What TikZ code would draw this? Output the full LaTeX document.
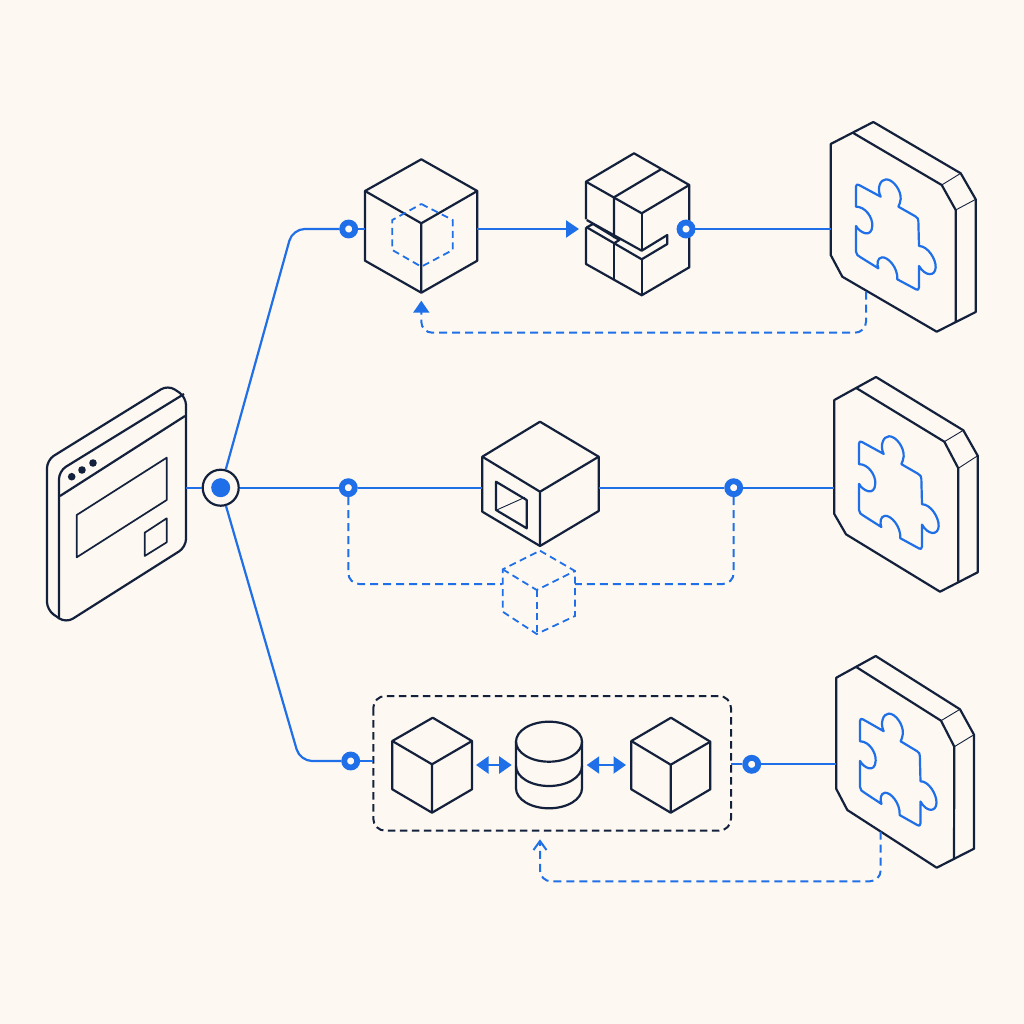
\documentclass[tikz,border=0pt]{standalone}
\usetikzlibrary{arrows.meta}
\definecolor{paper}{RGB}{253,248,241}
\definecolor{navy}{RGB}{20,33,61}
\definecolor{azure}{RGB}{30,111,232}
\tikzset{
  ink/.style={draw=navy,line width=2.2,line join=round},
  hair/.style={draw=navy,line width=0.9},
  flow/.style={draw=azure,line width=2.2},
  ghost/.style={draw=azure,line width=1.8,dash pattern=on 7pt off 4.5pt},
  back/.style={draw=azure,line width=2,dash pattern=on 8pt off 5pt,rounded corners=11},
  frameline/.style={draw=navy,line width=2,dash pattern=on 7.5pt off 4.5pt,rounded corners=12},
  piece/.style={draw=azure,line width=2.2,line join=round},
  ringnode/.style={circle,draw=azure,fill=paper,line width=5.8,minimum size=13,inner sep=0},
  solidhead/.style={-{Triangle[length=13pt,width=17pt]}},
  twohead/.style={{Triangle[length=12.5pt,width=17pt]}-{Triangle[length=12.5pt,width=17pt]}}
}
\newcommand{\puzzlepiece}[4]{%
  \begin{scope}[shift={(#1,#2)},xscale=#3/3,yscale=#4/3]
    \draw[piece] (0,30) -- (0,8) .. controls (0,1) and (4,0) .. (9,3) -- (74,38)
      .. controls (62,15) and (72,-14) .. (90,-14)
      .. controls (112,-14) and (136,20) .. (134,45)
      .. controls (133,55) and (130,62) .. (127,68)
      -- (178,97) .. controls (185,101) and (187,105) .. (187,112) -- (189,186)
      .. controls (215,186) and (240,225) .. (239,250)
      .. controls (238,278) and (208,278) .. (189,246)
      -- (189,310) .. controls (189,318) and (184,319) .. (180,316) -- (124,286)
      .. controls (126,250) and (95,218) .. (78,220)
      .. controls (64,221) and (62,240) .. (67,253)
      -- (14,220) .. controls (6,215) and (0,212) .. (0,203) -- (0,126)
      .. controls (10,145) and (47,165) .. (49,125)
      .. controls (50,100) and (28,68) .. (0,68)
      -- cycle;
  \end{scope}}
\begin{document}
\begin{tikzpicture}[x=1pt,y=-1pt]
\useasboundingbox (0,0) rectangle (1024,1024);
\fill[paper] (0,0) rectangle (1024,1024);

% window
\draw[ink,rounded corners=8] (47,520) -- (47,460) -- (168,385) -- (186,397) -- (186,547) -- (66,623) -- (47,610) -- cycle;
\draw[ink,rounded corners=8] (184,394) -- (59,471) -- (59,619);
\draw[ink] (185,416) -- (60,496);
\fill[navy] (71.7,476.7) circle (3.8) (82,470) circle (3.8) (93,463) circle (3.8);
\draw[ink,line width=1.7] (76.7,515) -- (166.7,457.7) -- (166.7,500) -- (76.7,557.3) -- cycle;
\draw[ink,line width=1.7] (144.7,532.7) -- (166.7,518.3) -- (166.7,542.3) -- (144.7,556) -- cycle;

% upper cube
\draw[ink] (421.3,159.3) -- (477.3,191) -- (477.3,260.7) -- (421.3,292.7) -- (365,260.7) -- (365,191) -- cycle;
\draw[ink] (365,191) -- (421.3,223.3) -- (477.3,191) (421.3,223.3) -- (421.3,292.7);
\draw[ghost] (421.3,204) -- (452.7,220) -- (452.7,250) -- (421.3,266.7) -- (392.3,250) -- (392.3,220) -- cycle;

% split block
\draw[ink] (586,219.3) -- (586,181.7) -- (634,153.3) -- (689.3,185) -- (689.3,267.3) -- (641.7,295.3) -- (586,264) -- (586,227.3);
\draw[ink] (586,181.7) -- (641.7,213.3) -- (689.3,185);
\draw[ink] (661,169.3) -- (614,197.3) -- (614,238);
\draw[ink] (641.7,213.3) -- (641.7,250.7);
\draw[ink] (586.7,220) -- (641.7,250.7) -- (667.3,235) -- (667.3,244) -- (641.7,259.3) -- (586.7,227.3) -- (593,224) -- (619.3,240) -- (614,243.3);
\draw[ink] (641.7,259.3) -- (641.7,295.3);
\draw[ink] (614,243.3) -- (614,280);

% plates
\draw[ink] (830.7,144) -- (873.3,122) -- (960.7,173.3) -- (975.7,199.3) -- (975.7,312) -- (936.7,331.7) -- (842.3,276.7) -- (830.7,255) -- cycle;
\draw[ink] (852.7,132.7) -- (941.7,185) -- (955.7,210) -- (955.7,322.3);
\draw[hair] (941.7,185) -- (960.7,173.3) (955.7,210) -- (975.7,199.3);
\puzzlepiece{856}{184}{1}{1}

\draw[ink] (834.3,400) -- (876,377) -- (963.3,430.3) -- (977.7,455.7) -- (977.7,572.3) -- (940,591.7) -- (846,534.3) -- (834.3,514) -- cycle;
\draw[ink] (856.7,388.3) -- (944.3,441.7) -- (958.3,468.3) -- (958.3,581.7);
\draw[hair] (944.3,441.7) -- (963.3,430.3) (958.3,468.3) -- (977.7,455.7);
\puzzlepiece{859}{441}{1}{1.02}

\draw[ink] (836.3,677.7) -- (875.7,656) -- (960,709.3) -- (974,734.7) -- (974,848.7) -- (936.7,867.7) -- (847.3,810) -- (836.3,789) -- cycle;
\draw[ink] (856.7,667.3) -- (941,720.7) -- (954.3,746.7) -- (954,859);
\draw[hair] (941,720.7) -- (960,709.3) (954.3,746.7) -- (974,734.7);
\puzzlepiece{860}{718.3}{0.96}{1.015}

% middle cube
\draw[ink] (540,421.7) -- (598.7,456.7) -- (598.7,511) -- (540,546) -- (482.3,511.7) -- (482.3,456.7) -- cycle;
\draw[ink] (482.3,456.7) -- (540,491.7) -- (598.7,456.7) (540,491.7) -- (540,546);
\draw[ink] (496,481.7) -- (526.7,500) -- (526.7,528.3) -- (496,510) -- cycle;
\draw[hair] (496.7,510) -- (525,497.3);

% ghost cube
\draw[ghost] (540,550.7) -- (575,571) -- (575,616) -- (536.7,634) -- (502.7,611.7) -- (502.7,569.3) -- cycle;
\draw[ghost] (502.7,569.3) -- (536.7,590) -- (575,571);
\draw[ghost] (536.7,590) -- (536.7,634);

% dashed frame
\draw[frameline] (373.3,696) rectangle (731,830.7);

% lower cubes
\draw[ink] (432.7,717.7) -- (472,741) -- (472,789.3) -- (432,812.7) -- (392.3,789.3) -- (392.3,741) -- cycle;
\draw[ink] (392.3,741) -- (432,764.3) -- (472,741) (432,764.3) -- (432,812.7);
\draw[ink] (671,717.7) -- (710.3,741.7) -- (710.3,789.3) -- (670.7,812.7) -- (631.3,789.3) -- (631.3,741) -- cycle;
\draw[ink] (631.3,741) -- (670.7,764.7) -- (710.3,741.7) (670.7,764.7) -- (670.7,812.7);

% database
\draw[ink] (549,741.7) ellipse (33 and 20);
\draw[ink] (516,741.7) -- (516,788.3) arc[start angle=180,end angle=360,x radius=33,y radius=-20] -- (582,741.7);
\draw[ink] (516,766) arc[start angle=180,end angle=360,x radius=33,y radius=-20];

% named connector ends
\node[circle,draw=navy,fill=paper,line width=2.2,minimum size=36,inner sep=0] (hub) at (220.7,487.7) {};
\node[circle,fill=azure,minimum size=19,inner sep=0] (hubdot) at (220.7,487.7) {};
\coordinate (winport) at (186,487.7);
\coordinate (bendA) at (292.6,229);
\coordinate (bendC) at (300,761);
\coordinate (cubeAin) at (365,229);
\coordinate (cubeAout) at (477.3,229);
\coordinate (blockin) at (579,229);
\coordinate (plateA) at (830.7,229);
\coordinate (cubeBin) at (482.3,487.7);
\coordinate (cubeBout) at (598.7,487.7);
\coordinate (plateB) at (834.3,487.7);
\coordinate (frameleft) at (373.3,761);
\coordinate (frameright) at (731,764.3);
\coordinate (plateC) at (836.3,764.3);
\coordinate (fbAstart) at (866,291.7);
\coordinate (fbAb) at (866,332.7);
\coordinate (fbAc) at (421.3,332.7);
\coordinate (fbAend) at (421.3,300.7);
\coordinate (fbCstart) at (880.7,831.7);
\coordinate (fbCb) at (880.7,881.3);
\coordinate (fbCc) at (540,881.3);
\coordinate (fbCend) at (540,839.3);
\coordinate (ghostleft) at (502,584);
\coordinate (ghostright) at (575,584);
\coordinate (bendBl) at (348.3,584);
\coordinate (bendBr) at (733.7,584);
\coordinate (cubeL) at (476,765);
\coordinate (dbL) at (511.7,765);
\coordinate (dbR) at (586.7,765);
\coordinate (cubeR) at (626,765);

\node[ringnode] (ringA) at (348.7,229) {};
\node[ringnode] (ringB) at (686,229) {};
\node[ringnode] (ringC) at (348.3,487.7) {};
\node[ringnode] (ringD) at (733.7,487.7) {};
\node[ringnode] (ringE) at (350.7,761) {};
\node[ringnode] (ringF) at (751.7,764.3) {};

% connectors
\draw[flow] (winport) -- (hub);
\draw[flow,rounded corners=12] (hub) -- (bendA) -- (ringA);
\draw[flow,rounded corners=12] (hub) -- (bendC) -- (ringE);
\draw[flow] (hub) -- (ringC);
\draw[flow] (ringA) -- (cubeAin);
\draw[flow,solidhead] (cubeAout) -- (blockin);
\draw[flow] (ringB) -- (plateA);
\draw[flow] (ringC) -- (cubeBin);
\draw[flow] (cubeBout) -- (ringD);
\draw[flow] (ringD) -- (plateB);
\draw[flow] (ringE) -- (frameleft);
\draw[flow] (frameright) -- (ringF);
\draw[flow] (ringF) -- (plateC);
\draw[flow,twohead] (cubeL) -- (dbL);
\draw[flow,twohead] (dbR) -- (cubeR);
\draw[back] (ringC) -- (bendBl) -- (ghostleft);
\draw[back] (ringD) -- (bendBr) -- (ghostright);
\draw[back,-{Triangle[length=12pt,width=16pt]}] (fbAstart) -- (fbAb) -- (fbAc) -- (fbAend);
\draw[back,-{Straight Barb[length=9pt,width=13pt]}] (fbCstart) -- (fbCb) -- (fbCc) -- (fbCend);
\end{tikzpicture}
\end{document}
